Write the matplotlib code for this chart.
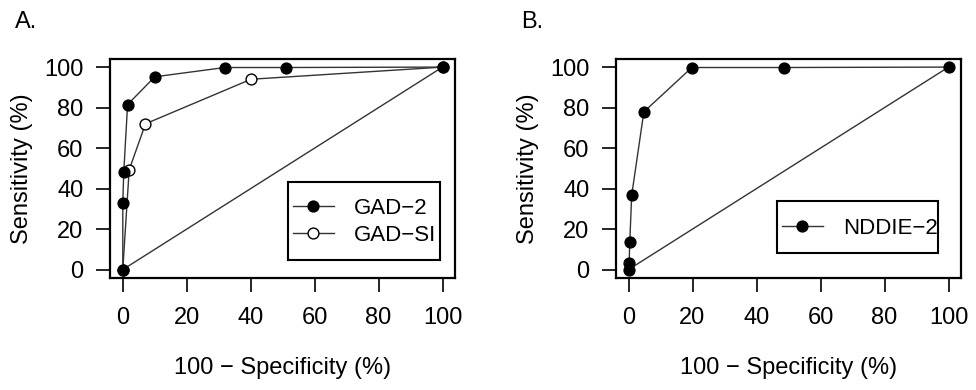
import matplotlib
matplotlib.use("Agg")
import matplotlib.pyplot as plt
from matplotlib.patches import Rectangle

plt.rcParams['font.family'] = ['Liberation Sans', 'DejaVu Sans']

# Panel A data (100 - specificity, sensitivity)
gad2_x = [0, 0, 0.3, 1.5, 10, 31.9, 51.1, 100]
gad2_y = [0, 33, 48, 81.5, 95.2, 99.8, 99.8, 100]
gadsi_x = [0, 2.0, 7.1, 40.1, 100]
gadsi_y = [0, 49.3, 72, 94, 100]
# Panel B data
nddie_x = [0, 0.2, 0.4, 1.0, 4.8, 19.8, 48.7, 100]
nddie_y = [0, 3.3, 13.7, 36.8, 77.9, 99.8, 99.8, 100]
diag = [0, 100]
ticks = [0, 20, 40, 60, 80, 100]
panel_labels = ["A.", "B."]
xlabel = "100 \u2212 Specificity (%)"
ylabel = "Sensitivity (%)"

W, H = 976, 390
fig = plt.figure(figsize=(9.76, 3.9), dpi=100)
axA = fig.add_axes([110/W, 1-277.7/H, 345.3/W, 218.7/H])
axB = fig.add_axes([615.7/W, 1-277.7/H, 345.6/W, 218.7/H])

fs = 17
lfs = 16
lc = '#333333'
ms = 7.8

def style(ax):
    ax.set_xlim(-4, 104)
    ax.set_ylim(-4, 104)
    ax.set_xticks(ticks)
    ax.set_yticks(ticks)
    ax.tick_params(direction='out', length=10, width=1.2, labelsize=fs, colors='black')
    ax.tick_params(axis='x', pad=11)
    ax.tick_params(axis='y', pad=9)
    for s in ax.spines.values():
        s.set_linewidth(1.6)
    ax.set_xlabel(xlabel, fontsize=fs, labelpad=20)
    ax.set_ylabel(ylabel, fontsize=fs, labelpad=8)
    ax.plot(diag, diag, color=lc, lw=1.0)

def legend_box(ax, x0, y0, x1, y1, hx, cy):
    leg = ax.legend(loc='center left', bbox_to_anchor=(hx/W, 1-cy/H), bbox_transform=fig.transFigure,
                    fontsize=lfs, frameon=False, handlelength=1.83, handletextpad=0.9,
                    borderpad=0, labelspacing=0.25, borderaxespad=0)
    fig.add_artist(Rectangle((x0/W, 1-y1/H), (x1-x0)/W, (y1-y0)/H, transform=fig.transFigure,
                             fill=False, edgecolor='black', lw=1.5))
    return leg

style(axA)
axA.plot(gad2_x, gad2_y, '-o', color=lc, lw=1.0, mfc='black', mec='black', ms=ms, label="GAD\u22122")
axA.plot(gadsi_x, gadsi_y, '-o', color=lc, lw=1.0, mfc='white', mec='black', ms=ms, mew=1.0, label="GAD\u2212SI", zorder=1.9)
legend_box(axA, 288, 182, 440, 260, 293, 222)

style(axB)
axB.plot(nddie_x, nddie_y, '-o', color=lc, lw=1.0, mfc='black', mec='black', ms=ms, label="NDDIE\u22122")
legend_box(axB, 776.7, 201, 938, 253, 782, 228.3)

fig.text(15/W, 1-22/H, panel_labels[0], fontsize=fs, va='center', ha='left')
fig.text(521/W, 1-22/H, panel_labels[1], fontsize=fs, va='center', ha='left')

fig.savefig("out.png", dpi=100)
